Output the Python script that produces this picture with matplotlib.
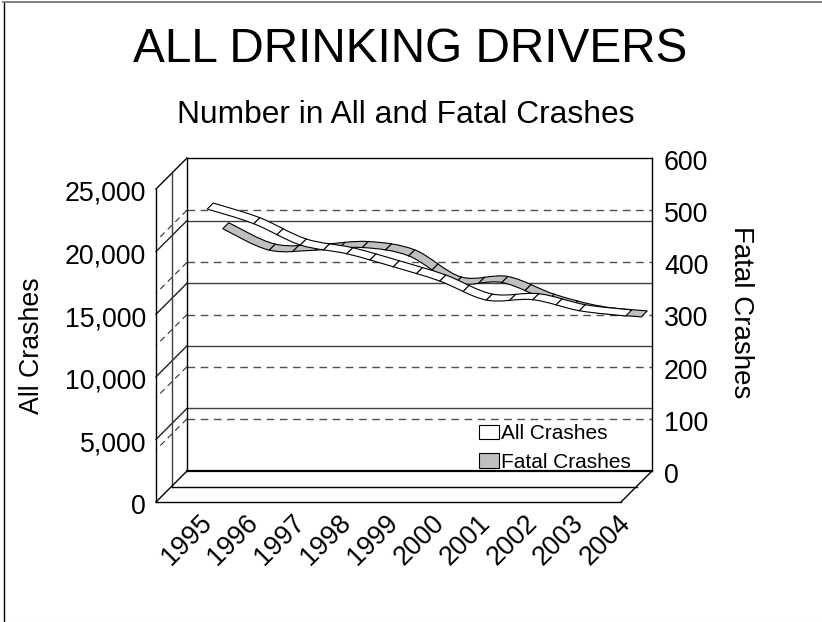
import matplotlib
matplotlib.use('Agg')
import matplotlib.pyplot as plt
import numpy as np
from matplotlib.patches import PathPatch, Patch
from matplotlib.path import Path
from matplotlib.transforms import Affine2D, IdentityTransform

plt.rcParams['font.family'] = ['Liberation Sans', 'DejaVu Sans']

years = ['1995', '1996', '1997', '1998', '1999', '2000', '2001', '2002', '2003', '2004']
all_crashes = [23020, 21850, 20150, 19450, 18410, 17270, 15750, 15780, 14900, 14480]
fatal_crashes = [485, 444, 444, 449, 433, 381, 382, 348, 325, 316]
all_ticks = [0, 5000, 10000, 15000, 20000, 25000]
fatal_ticks = [0, 100, 200, 300, 400, 500, 600]

W, H = 822, 622
DEPTH = 31  # px the floor runs towards the viewer

fig = plt.figure(figsize=(W / 100, H / 100), dpi=100)

ax = fig.add_axes([187 / W, 1 - 471 / H, 465 / W, 313 / H])
ax.set_xlim(-1, 9)
ax.set_ylim(0, 25000)
ax.patch.set_visible(False)
ax2 = ax.twinx()
ax2.set_ylim(0, 600)
ax2.patch.set_visible(False)
for a in (ax, ax2):
    for s in a.spines.values():
        s.set_visible(False)


def shifted(a, x, y, d):
    px = a.transData.transform((x, y))
    return px[0] - d, px[1] - d


def seg(p, q, **kw):
    kw.setdefault('color', 'black')
    kw.setdefault('lw', 1.0)
    fig.add_artist(plt.Line2D([p[0], q[0]], [p[1], q[1]], transform=IdentityTransform(), **kw))


def controls(pts):
    # smoothed line: bezier handles from the neighbouring points
    pts = np.asarray(pts)
    prev = np.vstack([pts[0], pts[:-1]])
    nxt = np.vstack([pts[1:], pts[-1]])
    c1 = pts[:-1] + (nxt[:-1] - prev[:-1]) / 6
    c2 = pts[1:] - (nxt[1:] - prev[1:]) / 6
    return c1, c2


def ribbon(a, values, d_back, d_front, color, z):
    back = np.array([shifted(a, i, v, d_back) for i, v in enumerate(values)])
    front = np.array([shifted(a, i, v, d_front) for i, v in enumerate(values)])
    verts = [back[0]]
    codes = [Path.MOVETO]
    c1, c2 = controls(back)
    for i in range(len(back) - 1):
        verts += [c1[i], c2[i], back[i + 1]]
        codes += [Path.CURVE4] * 3
    verts.append(front[-1])
    codes.append(Path.LINETO)
    f1, f2 = controls(front)
    for i in range(len(front) - 2, -1, -1):
        verts += [f2[i], f1[i], front[i]]
        codes += [Path.CURVE4] * 3
    verts.append(back[0])
    codes.append(Path.CLOSEPOLY)
    fig.add_artist(PathPatch(Path(verts, codes), facecolor=color, edgecolor='black', lw=0.8,
                             transform=IdentityTransform(), zorder=z))
    # panel edges at every year and half year (no half step in the first and last span)
    n = len(back)
    for i in range(1, n - 1):
        seg(back[i], front[i], lw=0.9, zorder=z + 0.1)
        if i < n - 2:
            mb = (back[i] + 3 * c1[i] + 3 * c2[i] + back[i + 1]) / 8
            mf = (front[i] + 3 * f1[i] + 3 * f2[i] + front[i + 1]) / 8
            seg(mb, mf, lw=0.9, zorder=z + 0.1)


dash = (0, (5.5, 4))

# back wall grid
for v in all_ticks[1:-1]:
    seg(shifted(ax, -1, v, 0), shifted(ax, 9, v, 0), color='#404040', lw=1.0, zorder=1)
    seg(shifted(ax, -1, v, 0), shifted(ax, -1, v, DEPTH), color='#202020', lw=1.0, zorder=1)
for v in fatal_ticks[1:-1]:
    seg(shifted(ax2, -1, v, 0), shifted(ax2, 9, v, 0), color='#505050', lw=1.0, ls=dash, zorder=1)
    seg(shifted(ax2, -1, v, 0), shifted(ax2, -1, v, DEPTH), color='#303030', lw=0.8, ls=dash, zorder=1)

# frame of walls and floor
top = all_ticks[-1]
seg(shifted(ax, -1, top, 0), shifted(ax, 9, top, 0), zorder=2)
seg(shifted(ax, -1, top, 0), shifted(ax, -1, 0, 0), zorder=2)
seg(shifted(ax, 9, top, 0), shifted(ax, 9, 0, 0), zorder=2)
seg(shifted(ax, -1, top, 0), shifted(ax, -1, top, DEPTH), zorder=2)
seg(shifted(ax, -1, top, DEPTH), shifted(ax, -1, 0, DEPTH), zorder=2)
seg(shifted(ax, -1, top, DEPTH / 2), shifted(ax, -1, 0, DEPTH / 2), color='#404040', zorder=2)
seg(shifted(ax, -1, 0, 0), shifted(ax, 9, 0, 0), lw=1.6, zorder=2)
seg(shifted(ax, -1, 0, DEPTH / 2), shifted(ax, 9, 0, DEPTH / 2), zorder=2)
seg(shifted(ax, -1, 0, DEPTH), shifted(ax, 9, 0, DEPTH), zorder=2)
seg(shifted(ax, -1, 0, 0), shifted(ax, -1, 0, DEPTH), zorder=2)
seg(shifted(ax, 9, 0, 0), shifted(ax, 9, 0, DEPTH), zorder=2)

ribbon(ax2, fatal_crashes, 4.75, 10.75, '#c0c0c0', 3)
ribbon(ax, all_crashes, 20.25, 26.25, 'white', 4)

# ticks
ax.set_yticks(all_ticks, [f'{v:,}' for v in all_ticks], fontsize=19.3)
ax.tick_params(axis='y', length=0, pad=7.2)
ax2.set_yticks(fatal_ticks, [str(v) for v in fatal_ticks], fontsize=19.3)
ax2.tick_params(axis='y', length=0, pad=8.6)
for lab in ax2.get_yticklabels():
    lab.set_transform(lab.get_transform() + Affine2D().translate(0, -2))
ax.set_xticks(range(len(years)), years, fontsize=19.3, rotation=45, ha='right', rotation_mode='anchor')
ax.tick_params(axis='x', length=0, pad=28)
for lab in ax.get_yticklabels():
    lab.set_transform(lab.get_transform() + Affine2D().translate(-DEPTH, -DEPTH - 2))
for lab in ax.get_xticklabels():
    lab.set_transform(lab.get_transform() + Affine2D().translate(-DEPTH - 4, 0))

fig.text(410 / W, 1 - 49 / H, 'ALL DRINKING DRIVERS', fontsize=34.4, ha='center', va='center')
fig.text(406 / W, 1 - 115 / H, 'Number in All and Fatal Crashes', fontsize=22.9, ha='center', va='center')
fig.text(32 / W, 1 - 346 / H, 'All Crashes', fontsize=19.3, rotation=90, ha='center', va='center')
fig.text(741 / W, 1 - 312 / H, 'Fatal Crashes', fontsize=20, rotation=270, ha='center', va='center')

handles = [Patch(facecolor='white', edgecolor='black', lw=0.8),
           Patch(facecolor='#c0c0c0', edgecolor='black', lw=0.8)]
leg = ax.legend(handles, ['All Crashes', 'Fatal Crashes'], frameon=False, fontsize=15,
                loc='lower left', bbox_to_anchor=(0.62, -0.015), handlelength=0.95, handleheight=0.7,
                handletextpad=0.07, labelspacing=0.45, borderaxespad=0, borderpad=0.2)
leg.set_zorder(5)

# outer border (y counts from the bottom of the image here)
seg((3.5, 619), (3.5, 0), color='black', lw=1.0)
seg((3, 620.5), (822, 620.5), color='#808080', lw=1.4)
seg((3, 0.5), (822, 0.5), color='#eeeeee', lw=0.8)

fig.savefig('out.png', dpi=100)
